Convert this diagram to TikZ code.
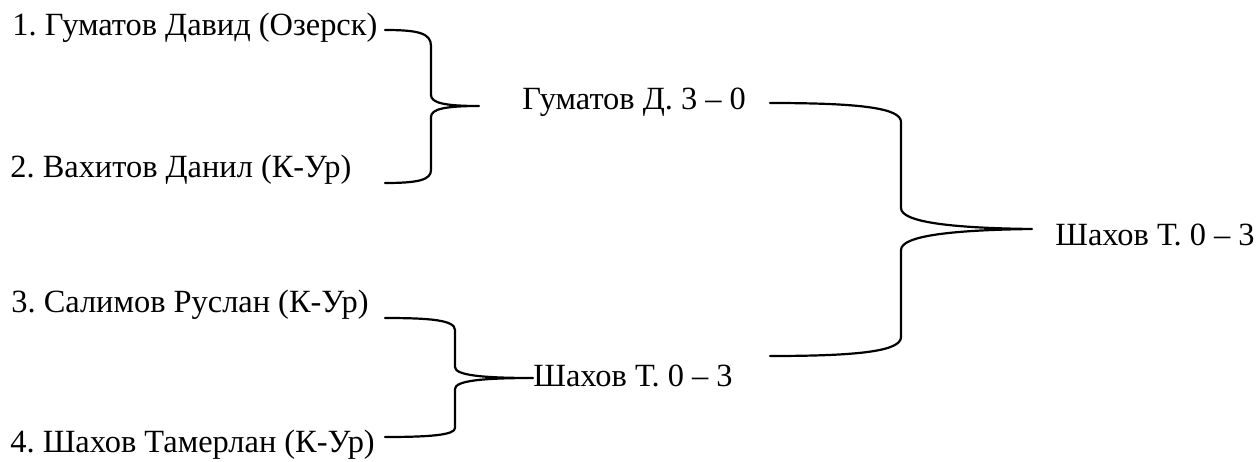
\documentclass[tikz,border=0pt]{standalone}
\usepackage{fontspec}
\setmainfont{Liberation Serif}[Ligatures=TeX]
\frenchspacing
\begin{document}
\begin{tikzpicture}[x=0.5pt,y=-0.5pt,
  lbl/.style={anchor=base west, inner sep=0pt, font=\fontsize{16.2}{18}\selectfont},
  brace/.style={line width=1.1pt, line join=round, line cap=round}]
\useasboundingbox (0,0) rectangle (1258,461);
\node[lbl] (p1) at (12,35) {1. Гуматов Давид (Озерск)};
\node[lbl] (p2) at (10,177) {2. Вахитов Данил (К-Ур)};
\node[lbl] (p3) at (11,312) {3. Салимов Руслан (К-Ур)};
\node[lbl] (p4) at (10,452) {4. Шахов Тамерлан (К-Ур)};
\node[lbl] (w1) at (522,109) {Гуматов Д. 3 -- 0};
\node[lbl] (w2) at (533,386) {Шахов Т. 0 -- 3};
\node[lbl] (f) at (1055,245) {Шахов Т. 0 -- 3};
% brace 1
\coordinate (b1t) at (385,30);
\coordinate (b1m) at (479,106);
\coordinate (b1b) at (385,183);
\draw[brace] (b1t) .. controls (418,30) and (431,33) .. (431,46) -- (431,95)
  .. controls (431,103) and (445,106) .. (b1m)
  .. controls (445,106) and (431,109) .. (431,117) -- (431,170)
  .. controls (431,180) and (418,183) .. (b1b);
% brace 2
\coordinate (b2t) at (770,103);
\coordinate (b2m) at (1032,229);
\coordinate (b2b) at (770,356);
\draw[brace] (b2t) .. controls (860,103) and (901,108) .. (901,122) -- (901,208)
  .. controls (901,222) and (950,228) .. (b2m)
  .. controls (950,230) and (901,236) .. (901,250) -- (901,337)
  .. controls (901,351) and (860,356) .. (b2b);
% brace 3
\coordinate (b3t) at (385,318);
\coordinate (b3b) at (385,437);
\draw[brace] (b3t) .. controls (430,318) and (455,320) .. (455,330) -- (455,367)
  .. controls (455,375) and (480,378) .. (w2.west |- 0,378)
  .. controls (480,378) and (455,381) .. (455,389) -- (455,428)
  .. controls (455,435) and (430,437) .. (b3b);
\end{tikzpicture}
\end{document}
